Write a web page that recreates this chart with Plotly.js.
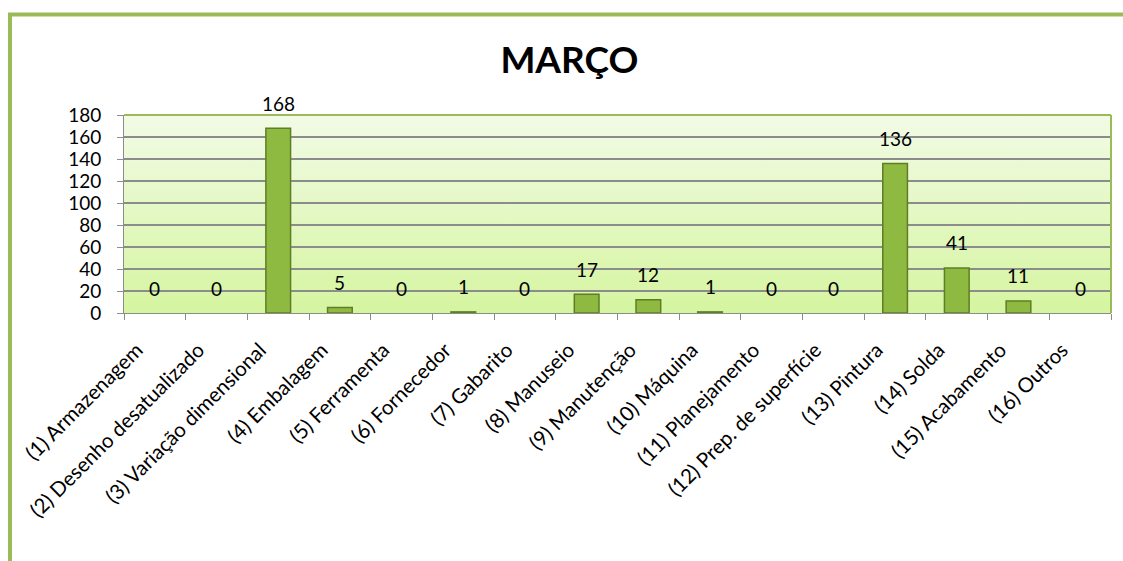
<!DOCTYPE html>
<html>
<head>
<meta charset="utf-8">
<script src="https://cdn.plot.ly/plotly-3.0.1.min.js"></script>
<style>
html,body{margin:0;padding:0;background:#fff;}
#chart{width:1123px;height:561px;}
</style>
</head>
<body>
<div id="chart"></div>
<script>
const categories = [
  "(1) Armazenagem",
  "(2) Desenho desatualizado",
  "(3) Variação dimensional",
  "(4) Embalagem",
  "(5) Ferramenta",
  "(6) Fornecedor",
  "(7) Gabarito",
  "(8) Manuseio",
  "(9) Manutenção",
  "(10) Máquina",
  "(11) Planejamento",
  "(12) Prep. de superfície",
  "(13) Pintura",
  "(14) Solda",
  "(15) Acabamento",
  "(16) Outros"
];
const values = [0, 0, 168, 5, 0, 1, 0, 17, 12, 1, 0, 0, 136, 41, 11, 0];
const yTicks = [0, 20, 40, 60, 80, 100, 120, 140, 160, 180];
const chartTitle = "MARÇO";

const FONT = 'Lato, "Open Sans", sans-serif';

const gradSvg = '<svg xmlns="http://www.w3.org/2000/svg" width="10" height="100" preserveAspectRatio="none">' +
  '<defs><linearGradient id="g" x1="0" y1="0" x2="0" y2="1">' +
  '<stop offset="0" stop-color="#f2fbe6"/><stop offset="1" stop-color="#d5f5a0"/>' +
  '</linearGradient></defs><rect width="10" height="100" fill="url(#g)"/></svg>';
const gradUri = 'data:image/svg+xml;charset=utf-8,' + encodeURIComponent(gradSvg);

const trace = {
  type: 'bar',
  x: categories,
  y: values,
  width: 0.4,
  marker: {
    color: '#8fba42',
    line: {color: '#5f7d24', width: values.map(v => v > 0 ? 1.5 : 0)}
  },
  hoverinfo: 'x+y'
};

const annotations = categories.map((c, i) => ({
  x: c, y: values[i], xref: 'x', yref: 'y',
  text: String(values[i]), showarrow: false,
  yanchor: 'middle', yshift: 25,
  font: {family: FONT, size: 19, color: '#000'}
}));

const layout = {
  width: 1123, height: 561,
  margin: {l: 124, r: 12, t: 115, b: 248},
  paper_bgcolor: '#ffffff',
  plot_bgcolor: 'rgba(0,0,0,0)',
  showlegend: false,
  title: {
    text: '<b>' + chartTitle + '</b>',
    x: 0.507, xanchor: 'center', y: 0.893, yanchor: 'middle',
    font: {family: FONT, size: 37, color: '#000'}
  },
  xaxis: {
    type: 'category',
    tickangle: -45,
    ticks: 'outside', tickson: 'boundaries', ticklen: 6, tickcolor: '#8c8c8c',
    ticklabelstandoff: 16,
    ticklabelshift: -18,
    showline: true, linecolor: '#8c8c8c', linewidth: 1,
    tickfont: {family: FONT, size: 20.5, color: '#000'},
    range: [-0.5, 15.5]
  },
  yaxis: {
    range: [0, 180],
    tickvals: yTicks,
    ticktext: yTicks.map(String),
    ticks: 'outside', ticklen: 6, tickcolor: '#8c8c8c',
    ticklabelstandoff: 12,
    showline: true, linecolor: '#8c8c8c', linewidth: 1,
    showgrid: true, gridcolor: '#8c8c8c', gridwidth: 1.3,
    zeroline: false,
    tickfont: {family: FONT, size: 19, color: '#000'}
  },
  images: [{
    source: gradUri, xref: 'paper', yref: 'paper',
    x: 0, y: 1, sizex: 1, sizey: 1, xanchor: 'left', yanchor: 'top',
    sizing: 'stretch', layer: 'below'
  }],
  shapes: [
    {type: 'line', xref: 'paper', yref: 'paper', x0: 0, x1: 1, y0: 1, y1: 1,
     line: {color: '#9bbb59', width: 2}},
    {type: 'line', xref: 'paper', yref: 'paper', x0: 1, x1: 1, y0: 0, y1: 1,
     line: {color: '#9bbb59', width: 2}},
    {type: 'rect', xref: 'paper', yref: 'paper',
     x0: (10 - 124) / 987, x1: 1.2, y0: -1.6, y1: (313 - 14.5) / 198,
     line: {color: '#9bbb59', width: 4}, fillcolor: 'rgba(0,0,0,0)', layer: 'above'}
  ],
  annotations: annotations
};

Plotly.newPlot('chart', [trace], layout, {displayModeBar: false, staticPlot: true});
</script>
</body>
</html>
